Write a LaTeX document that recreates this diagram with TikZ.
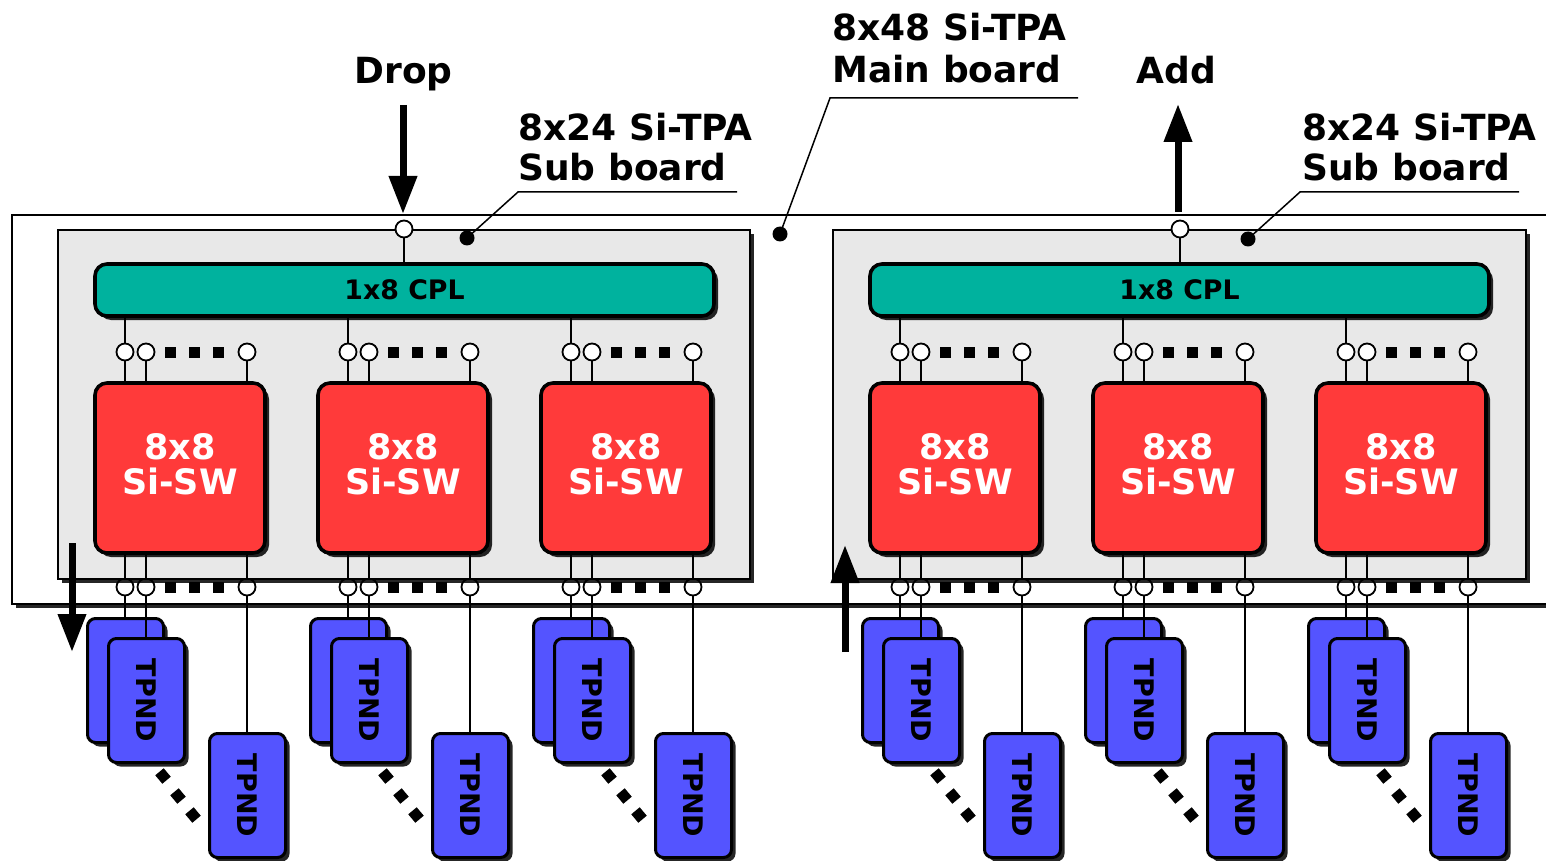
\documentclass[tikz,border=0pt]{standalone}
\usepackage{fontspec}
\setmainfont{DejaVu Sans}
\usetikzlibrary{arrows.meta,shadows,calc}
\definecolor{boardgray}{RGB}{232,232,232}
\definecolor{cplteal}{RGB}{0,178,158}
\definecolor{swred}{RGB}{255,58,58}
\definecolor{tpblue}{RGB}{84,84,255}
\begin{document}
\begin{tikzpicture}[x=0.5pt,y=-0.5pt,
 shd/.style={drop shadow={shadow xshift=2pt,shadow yshift=-2pt,opacity=0.85,fill=black}},
 mainboard/.style={draw=black,line width=1pt,fill=white},
 subboard/.style={draw=black,line width=1pt,fill=boardgray,shd,minimum width=346pt,minimum height=174.5pt,inner sep=0,anchor=north west},
 cplbox/.style={draw=black,line width=1.8pt,fill=cplteal,rounded corners=6pt,minimum width=309.5pt,minimum height=26pt,inner sep=0,font=\fontsize{13.4}{16}\selectfont\bfseries,shd},
 swbox/.style={draw=black,line width=1.8pt,fill=swred,rounded corners=6pt,minimum width=85pt,minimum height=85pt,inner sep=0,text=white,align=center,text depth=4pt,font=\fontsize{17.5}{17.5}\selectfont\bfseries,shd},
 tpnd/.style={draw=black,line width=1.5pt,fill=tpblue,rounded corners=4pt,minimum width=38pt,minimum height=62pt,inner sep=0,anchor=north west,font=\fontsize{13.5}{16}\selectfont\bfseries,shd},
 port/.style={circle,draw=black,line width=0.9pt,fill=white,minimum size=8.5pt,inner sep=0},
 sq/.style={fill=black,minimum size=5.5pt,inner sep=0},
 dsq/.style={fill=black,minimum size=5.5pt,inner sep=0,rotate=40},
 dotmark/.style={circle,fill=black,minimum size=7.5pt,inner sep=0},
 wire/.style={line width=0.9pt},
 leader/.style={line width=0.75pt},
 bigarrow/.style={line width=3.5pt,-{Triangle[width=13.5pt,length=19pt]}},
 lbl/.style={font=\fontsize{18}{20}\selectfont\bfseries,inner sep=0,anchor=base west}
]
\useasboundingbox (0,0) rectangle (1546,861);

% main board
\path[mainboard,shd] (1546,215) -- (12,215) -- (12,604) -- (1546,604);

% bottom ports, wires and TPND cards
\foreach \i/\x in {1/95,2/318,3/541,4/870,5/1093,6/1316} {
  \node[port] (bpa\i) at (\x+30,587) {};
  \node[port] (bpb\i) at (\x+51,587) {};
  \node[port] (bpc\i) at (\x+152,587) {};
  \node[sq] (bsa\i) at (\x+75,587) {};
  \node[sq] (bsb\i) at (\x+99,587) {};
  \node[sq] (bsc\i) at (\x+123,587) {};
  \node[tpnd] (ta\i) at (\x-9,617) {};
  \draw[wire] (bpa\i) -- (bpa\i |- ta\i.north);
  \node[tpnd] (tb\i) at (\x+12,637) {\rotatebox{-90}{TPND}};
  \draw[wire] (bpb\i) -- (bpb\i |- tb\i.north);
  \node[tpnd] (tc\i) at (\x+113,732) {\rotatebox{-90}{TPND}};
  \draw[wire] (bpc\i) -- (bpc\i |- tc\i.north);
  \node[dsq] (dd1\i) at (\x+68,776) {};
  \node[dsq] (dd2\i) at (\x+83,796) {};
  \node[dsq] (dd3\i) at (\x+98,815) {};
}

% sub boards
\node[subboard] (sbL) at (57,229) {};
\node[subboard,minimum width=346.5pt] (sbR) at (832,229) {};

% couplers
\node[cplbox] (cplL) at (404.5,290) {1x8 CPL};
\node[cplbox] (cplR) at (1179.5,290) {1x8 CPL};

\node[port] (inL) at (404,229) {};
\node[port] (inR) at (1180,229) {};
\draw[wire] (inL) -- (inL |- cplL.north);
\draw[wire] (inR) -- (inR |- cplR.north);

% switches
\foreach \i/\x/\c in {1/95/cplL,2/318/cplL,3/541/cplL,4/870/cplR,5/1093/cplR,6/1316/cplR} {
  \node[swbox] (sw\i) at (\x+85,468) {8x8\\Si-SW};
  \node[port] (tpa\i) at (\x+30,352) {};
  \node[port] (tpb\i) at (\x+51,352) {};
  \node[port] (tpc\i) at (\x+152,352) {};
  \node[sq] (tsa\i) at (\x+75,352) {};
  \node[sq] (tsb\i) at (\x+99,352) {};
  \node[sq] (tsc\i) at (\x+123,352) {};
  \draw[wire] (tpa\i) -- (tpa\i |- \c.south);
  \draw[wire] (tpa\i) -- (tpa\i |- sw\i.north);
  \draw[wire] (tpb\i) -- (tpb\i |- sw\i.north);
  \draw[wire] (tpc\i) -- (tpc\i |- sw\i.north);
  \draw[wire] (bpa\i) -- (bpa\i |- sw\i.south);
  \draw[wire] (bpb\i) -- (bpb\i |- sw\i.south);
  \draw[wire] (bpc\i) -- (bpc\i |- sw\i.south);
}

% big arrows
\coordinate (dropS) at (403,105);
\coordinate (dropE) at (403,214);
\draw[bigarrow] (dropS) -- (dropE);
\coordinate (addS) at (1178,212);
\coordinate (addE) at (1178,104);
\draw[bigarrow] (addS) -- (addE);
\coordinate (dnS) at (72,543);
\coordinate (dnE) at (72,652);
\draw[bigarrow] (dnS) -- (dnE);
\coordinate (upS) at (845,652);
\coordinate (upE) at (845,545);
\draw[bigarrow] (upS) -- (upE);

% leaders
\node[dotmark] (dL) at (467,238) {};
\coordinate (kL) at (518,192);
\coordinate (eL) at (737,192);
\draw[leader] (dL.center) -- (kL) -- (eL);
\node[dotmark] (dM) at (780,234) {};
\coordinate (kM) at (830,98);
\coordinate (eM) at (1078,98);
\draw[leader] (dM.center) -- (kM) -- (eM);
\node[dotmark] (dR) at (1248,239) {};
\coordinate (kR) at (1300,192);
\coordinate (eR) at (1519,192);
\draw[leader] (dR.center) -- (kR) -- (eR);

% labels
\node[lbl] (drop) at (354,84) {Drop};
\node[lbl] (add) at (1136,84) {Add};
\node[lbl] (subL1) at (518,141) {8x24 Si-TPA};
\node[lbl] (subL2) at (518,181) {Sub board};
\node[lbl] (main1) at (832,41) {8x48 Si-TPA};
\node[lbl] (main2) at (832,83) {Main board};
\node[lbl] (subR1) at (1302,141) {8x24 Si-TPA};
\node[lbl] (subR2) at (1302,181) {Sub board};
\end{tikzpicture}
\end{document}
